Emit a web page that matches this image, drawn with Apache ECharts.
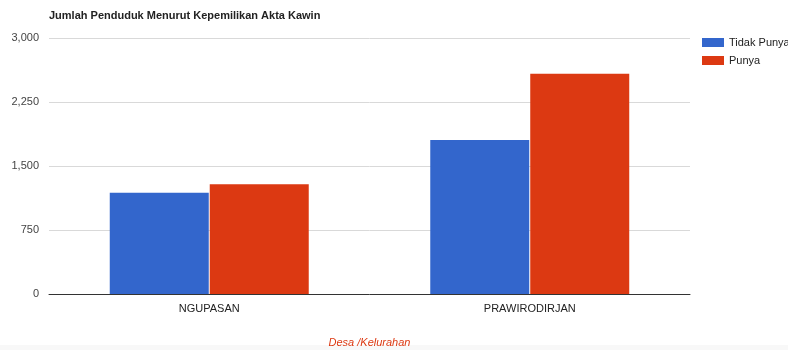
<!DOCTYPE html>
<html><head><meta charset="utf-8">
<script src="https://cdn.jsdelivr.net/npm/echarts@6/dist/echarts.min.js"></script>
<style>html,body{margin:0;padding:0;background:#fff}#c{width:788px;height:350px}</style>
</head><body><div id="c"></div>
<script>
var categories = ['NGUPASAN', 'PRAWIRODIRJAN'];
var tidakPunya = [1187, 1805];
var punya = [1285, 2582];
var yTicks = [0, 750, 1500, 2250, 3000];
var seriesNames = ['Tidak Punya', 'Punya'];

var chart = echarts.init(document.getElementById('c'), null, {renderer: 'canvas'});
chart.setOption({
  animation: false,
  backgroundColor: '#fff',
  graphic: [{
    type: 'rect', left: 0, top: 345, z: -10,
    shape: {width: 788, height: 5},
    style: {fill: '#f8f8f8'}
  }],
  title: {
    text: 'Jumlah Penduduk Menurut Kepemilikan Akta Kawin',
    left: 44, top: 5,
    textStyle: {fontFamily: 'Liberation Sans, Arial', fontSize: 11, fontWeight: 'bold', color: '#222'}
  },
  legend: {
    orient: 'vertical', left: 697, top: 32,
    itemWidth: 22, itemHeight: 9, itemGap: 7,
    icon: 'rect',
    data: seriesNames,
    textStyle: {fontFamily: 'Liberation Sans, Arial', fontSize: 11, color: '#222'}
  },
  grid: {left: 49, right: 98, top: 38, bottom: 56, containLabel: false, outerBoundsMode: 'none'},
  xAxis: {
    type: 'category', data: categories,
    name: 'Desa /Kelurahan', nameLocation: 'middle', nameGap: 43,
    nameTextStyle: {fontFamily: 'Liberation Sans, Arial', fontSize: 11, fontStyle: 'italic', color: '#dc3912'},
    axisLine: {lineStyle: {color: '#333', width: 1}},
    axisTick: {show: false},
    axisLabel: {fontFamily: 'Liberation Sans, Arial', fontSize: 11, color: '#222', margin: 9}
  },
  yAxis: {
    type: 'value', min: yTicks[0], max: yTicks[yTicks.length - 1], interval: 750,
    axisLine: {show: false}, axisTick: {show: false},
    splitLine: {lineStyle: {color: '#d9d9d9', width: 1}},
    axisLabel: {fontFamily: 'Liberation Sans, Arial', fontSize: 11, color: '#444', margin: 10,
      formatter: function (v) { return v.toLocaleString('en-US'); }}
  },
  series: [
    {name: seriesNames[0], type: 'bar', data: tidakPunya, barWidth: 99, barGap: '1%',
     itemStyle: {color: '#3366cc'}},
    {name: seriesNames[1], type: 'bar', data: punya, barWidth: 99,
     itemStyle: {color: '#dc3912'}}
  ]
});
</script></body></html>
